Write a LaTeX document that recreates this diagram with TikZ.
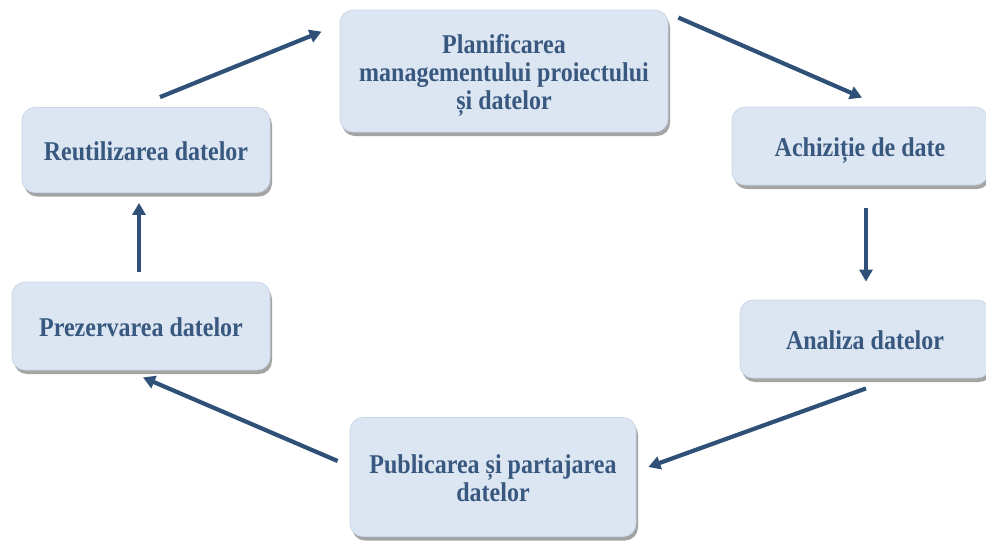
\documentclass[tikz,border=0pt]{standalone}
\usepackage{fontspec}
\setmainfont{Liberation Serif}
\usetikzlibrary{shadows,arrows.meta}
\definecolor{boxfill}{HTML}{DCE6F2}
\definecolor{boxline}{HTML}{C9D7E9}
\definecolor{txt}{HTML}{38587F}
\definecolor{arr}{HTML}{2F5177}
\newcommand{\lbltxt}[1]{\raisebox{-5pt}[\height][\depth]{\scalebox{1}[1.13]{\begin{tabular}{@{}c@{}}#1\end{tabular}}}}
\tikzset{
  box/.style={rectangle, rounded corners=13pt, fill=boxfill, draw=boxline, line width=0.8pt,
    drop shadow={shadow xshift=2pt, shadow yshift=-4pt, fill=black!55, opacity=0.65},
    text=txt, font=\fontsize{24}{25}\selectfont\bfseries, align=center, inner sep=0pt},
  link/.style={draw=arr, line width=4.2pt, -{Triangle[length=12pt,width=13pt]}}
}
\begin{document}
\begin{tikzpicture}[x=1pt,y=-1pt]
\useasboundingbox (0,0) rectangle (986,542);
\node[box, minimum width=328pt, minimum height=122pt] (plan) at (504,71) {\lbltxt{Planificarea\\managementului proiectului\\și datelor}};
\node[box, minimum width=248pt, minimum height=85pt] (reut) at (146,150) {\lbltxt{Reutilizarea datelor}};
\node[box, minimum width=256pt, minimum height=78pt] (achi) at (860,146) {\lbltxt{Achiziție de date}};
\node[box, minimum width=250pt, minimum height=78pt] (anal) at (865,339) {\lbltxt{Analiza datelor}};
\node[box, minimum width=286pt, minimum height=119pt] (publ) at (493,477) {\lbltxt{Publicarea și partajarea\\datelor}};
\node[box, minimum width=258pt, minimum height=88pt] (prez) at (141,326) {\lbltxt{Prezervarea datelor}};
\draw[link] ([xshift=14pt,yshift=10pt]reut.north) -- ([xshift=-18pt,yshift=-22pt]plan.north west);
\draw[link] ([xshift=10pt,yshift=-8pt]plan.north east) -- ([xshift=2pt,yshift=9pt]achi.north);
\draw[link] ([xshift=6pt,yshift=-23pt]achi.south) -- ([xshift=1pt,yshift=18pt]anal.north);
\draw[link] ([xshift=1pt,yshift=-10pt]anal.south) -- ([xshift=12pt,yshift=10pt]publ.east);
\draw[link] ([xshift=-12pt,yshift=16pt]publ.west) -- ([xshift=2pt,yshift=-7pt]prez.south);
\draw[link] ([xshift=-2pt,yshift=10pt]prez.north) -- ([xshift=-7pt,yshift=-10pt]reut.south);
\end{tikzpicture}
\end{document}
